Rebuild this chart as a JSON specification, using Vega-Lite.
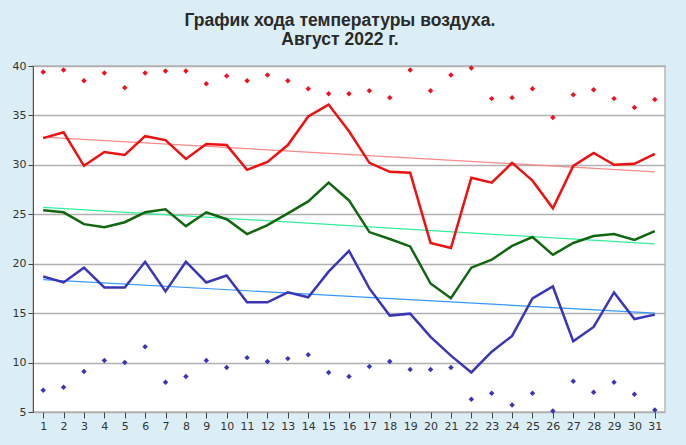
{
  "$schema": "https://vega.github.io/schema/vega-lite/v6.json",
  "autosize": "none",
  "width": 632,
  "height": 346,
  "padding": {"left": 33, "top": 66, "right": 21, "bottom": 33},
  "background": "#dbeef6",
  "title": {
    "text": ["График хода температуры воздуха.", "Август 2022 г."],
    "font": "Liberation Sans",
    "fontSize": 17.5,
    "fontWeight": "bold",
    "color": "#2a2a2a",
    "anchor": "middle",
    "frame": "group",
    "lineHeight": 19,
    "offset": 12,
    "dx": -9
  },
  "config": {
    "view": {"stroke": "#b8b8b8", "strokeWidth": 1.5, "fill": "white"},
    "axis": {"labelFont": "DejaVu Sans", "labelFontSize": 11, "labelColor": "#333333", "tickColor": "#444444", "domainColor": "#444444"}
  },
  "datasets": {
    "trend": [
      {"day": 1, "series": "max", "value": 32.8},
      {"day": 31, "series": "max", "value": 29.3},
      {"day": 1, "series": "mean", "value": 25.7},
      {"day": 31, "series": "mean", "value": 22.0},
      {"day": 1, "series": "min", "value": 18.4},
      {"day": 31, "series": "min", "value": 15.0}
    ]
  },
  "data": {
    "values": [
      {"day": 1, "tmax": 32.7, "tmean": 25.4, "tmin": 18.7, "absmax": 39.4, "absmin": 7.2},
      {"day": 2, "tmax": 33.3, "tmean": 25.2, "tmin": 18.1, "absmax": 39.6, "absmin": 7.5},
      {"day": 3, "tmax": 29.9, "tmean": 24.0, "tmin": 19.6, "absmax": 38.5, "absmin": 9.1},
      {"day": 4, "tmax": 31.3, "tmean": 23.7, "tmin": 17.6, "absmax": 39.3, "absmin": 10.2},
      {"day": 5, "tmax": 31.0, "tmean": 24.2, "tmin": 17.6, "absmax": 37.8, "absmin": 10.0},
      {"day": 6, "tmax": 32.9, "tmean": 25.2, "tmin": 20.2, "absmax": 39.3, "absmin": 11.6},
      {"day": 7, "tmax": 32.5, "tmean": 25.5, "tmin": 17.2, "absmax": 39.5, "absmin": 8.0},
      {"day": 8, "tmax": 30.6, "tmean": 23.8, "tmin": 20.2, "absmax": 39.5, "absmin": 8.6},
      {"day": 9, "tmax": 32.1, "tmean": 25.2, "tmin": 18.1, "absmax": 38.2, "absmin": 10.2},
      {"day": 10, "tmax": 32.0, "tmean": 24.5, "tmin": 18.8, "absmax": 39.0, "absmin": 9.5},
      {"day": 11, "tmax": 29.5, "tmean": 23.0, "tmin": 16.1, "absmax": 38.5, "absmin": 10.5},
      {"day": 12, "tmax": 30.3, "tmean": 23.9, "tmin": 16.1, "absmax": 39.1, "absmin": 10.1},
      {"day": 13, "tmax": 32.0, "tmean": 25.1, "tmin": 17.1, "absmax": 38.5, "absmin": 10.4},
      {"day": 14, "tmax": 34.9, "tmean": 26.3, "tmin": 16.6, "absmax": 37.7, "absmin": 10.8},
      {"day": 15, "tmax": 36.1, "tmean": 28.2, "tmin": 19.2, "absmax": 37.2, "absmin": 9.0},
      {"day": 16, "tmax": 33.4, "tmean": 26.4, "tmin": 21.3, "absmax": 37.2, "absmin": 8.6},
      {"day": 17, "tmax": 30.2, "tmean": 23.2, "tmin": 17.5, "absmax": 37.5, "absmin": 9.6},
      {"day": 18, "tmax": 29.3, "tmean": 22.5, "tmin": 14.75, "absmax": 36.8, "absmin": 10.1},
      {"day": 19, "tmax": 29.2, "tmean": 21.75, "tmin": 14.95, "absmax": 39.6, "absmin": 9.3},
      {"day": 20, "tmax": 22.1, "tmean": 18.0, "tmin": 12.6, "absmax": 37.5, "absmin": 9.3},
      {"day": 21, "tmax": 21.6, "tmean": 16.5, "tmin": 10.7, "absmax": 39.1, "absmin": 9.5},
      {"day": 22, "tmax": 28.7, "tmean": 19.6, "tmin": 9.0, "absmax": 39.8, "absmin": 6.3},
      {"day": 23, "tmax": 28.2, "tmean": 20.4, "tmin": 11.1, "absmax": 36.7, "absmin": 6.9},
      {"day": 24, "tmax": 30.2, "tmean": 21.8, "tmin": 12.7, "absmax": 36.8, "absmin": 5.7},
      {"day": 25, "tmax": 28.4, "tmean": 22.7, "tmin": 16.5, "absmax": 37.7, "absmin": 6.9},
      {"day": 26, "tmax": 25.6, "tmean": 20.9, "tmin": 17.7, "absmax": 34.8, "absmin": 5.1},
      {"day": 27, "tmax": 29.9, "tmean": 22.1, "tmin": 12.15, "absmax": 37.1, "absmin": 8.1},
      {"day": 28, "tmax": 31.2, "tmean": 22.8, "tmin": 13.6, "absmax": 37.6, "absmin": 7.0},
      {"day": 29, "tmax": 30.0, "tmean": 23.0, "tmin": 17.1, "absmax": 36.7, "absmin": 8.0},
      {"day": 30, "tmax": 30.1, "tmean": 22.4, "tmin": 14.4, "absmax": 35.8, "absmin": 6.8},
      {"day": 31, "tmax": 31.1, "tmean": 23.3, "tmin": 14.85, "absmax": 36.6, "absmin": 5.2}
    ]
  },
  "encoding": {
    "x": {
      "field": "day", "type": "quantitative",
      "scale": {"domain": [0.5, 31.5], "nice": false, "zero": false},
      "axis": {"title": null, "grid": false, "values": [1,2,3,4,5,6,7,8,9,10,11,12,13,14,15,16,17,18,19,20,21,22,23,24,25,26,27,28,29,30,31], "format": "d", "tickSize": 6, "labelPadding": 2, "domain": false}
    }
  },
  "layer": [
    {
      "mark": {"type": "rule", "opacity": 0},
      "encoding": {
        "y": {"field": "tmax", "type": "quantitative",
          "scale": {"domain": [5, 40], "nice": false, "zero": false},
          "axis": {"title": null, "values": [5,10,15,20,25,30,35,40], "gridColor": "#b0b0b0", "gridWidth": 1.5, "tickSize": 5, "labelPadding": 2, "domainColor": "#555555"}}
      }
    },
    {
      "data": {"name": "trend"},
      "transform": [{"filter": "datum.series === 'max'"}],
      "mark": {"type": "line", "color": "#f58a8a", "strokeWidth": 1.2},
      "encoding": {"y": {"field": "value", "type": "quantitative"}}
    },
    {
      "data": {"name": "trend"},
      "transform": [{"filter": "datum.series === 'mean'"}],
      "mark": {"type": "line", "color": "#33ee99", "strokeWidth": 1.2},
      "encoding": {"y": {"field": "value", "type": "quantitative"}}
    },
    {
      "data": {"name": "trend"},
      "transform": [{"filter": "datum.series === 'min'"}],
      "mark": {"type": "line", "color": "#3399ff", "strokeWidth": 1.2},
      "encoding": {"y": {"field": "value", "type": "quantitative"}}
    },
    {
      "mark": {"type": "line", "color": "#ee1111", "strokeWidth": 2.5},
      "encoding": {"y": {"field": "tmax", "type": "quantitative"}}
    },
    {
      "mark": {"type": "line", "color": "#116611", "strokeWidth": 2.5},
      "encoding": {"y": {"field": "tmean", "type": "quantitative"}}
    },
    {
      "mark": {"type": "line", "color": "#3b36b8", "strokeWidth": 2.5},
      "encoding": {"y": {"field": "tmin", "type": "quantitative"}}
    },
    {
      "mark": {"type": "point", "shape": "diamond", "filled": true, "size": 30, "color": "#ee1122", "opacity": 1},
      "encoding": {"y": {"field": "absmax", "type": "quantitative"}}
    },
    {
      "mark": {"type": "point", "shape": "diamond", "filled": true, "size": 30, "color": "#3b36b8", "opacity": 1},
      "encoding": {"y": {"field": "absmin", "type": "quantitative"}}
    }
  ]
}
